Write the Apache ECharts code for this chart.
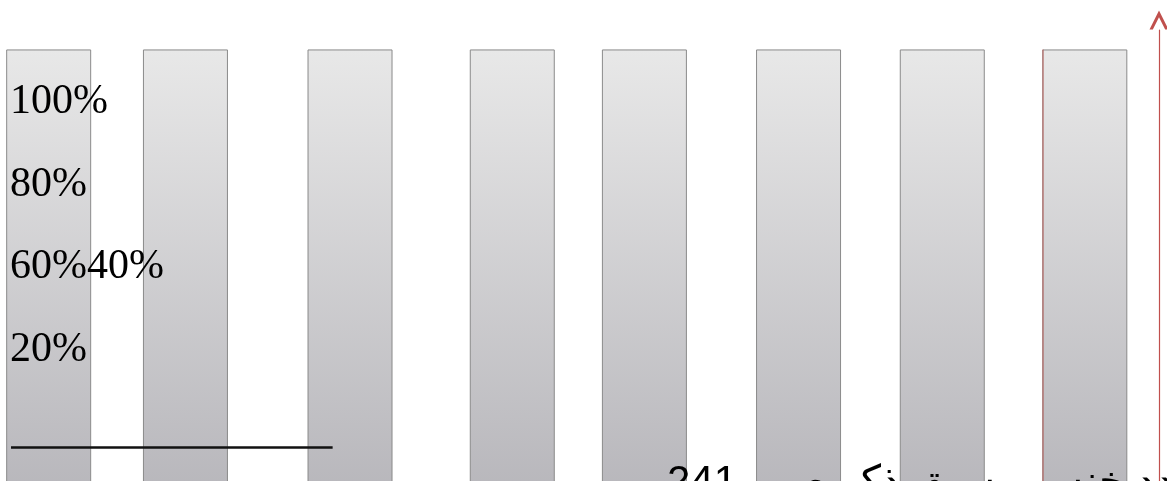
<!DOCTYPE html>
<html>
<head>
<meta charset="utf-8">
<script src="https://cdn.jsdelivr.net/npm/echarts@6/dist/echarts.min.js"></script>
<style>html,body{margin:0;padding:0;background:#fff;overflow:hidden;}#c{width:1167px;height:530px;}</style>
</head>
<body>
<div id="c"></div>
<script>
// bar positions along the horizontal value axis (0-100 units)
const barPositions = [4.2, 16.0, 30.2, 44.2, 55.6, 68.9, 81.3, 93.6];
// bar values (percent)
const barValues = [96, 96, 96, 96, 96, 96, 96, 96];
// percentage tick values and their labels (as drawn)
const tickValues = [100, 80, 60, 40, 20, 0];
const tickLabels = ['100%', '80%', '60%40%', '20%', '', ''];
// title text
const titleText = 'عدد خنس مسبق ذكر صور 241،\u200F';

const chart = echarts.init(document.getElementById('c'), null, {renderer: 'canvas'});
const data = barPositions.map((x, i) => [x, barValues[i]]);
chart.setOption({
  animation: false,
  backgroundColor: '#fff',
  title: {
    text: titleText,
    left: 648,
    top: 457,
    z: 20,
    textStyle: {fontFamily: 'sans-serif', fontSize: 42, fontWeight: 'normal', color: '#000'}
  },
  grid: {left: 0, right: 8, top: 30, bottom: 14, containLabel: false},
  xAxis: {type: 'value', min: 0, max: 100, show: false},
  yAxis: [
    {
      type: 'value', min: 0, max: 100, position: 'right', z: 10,
      axisLine: {
        show: true, onZero: false, lineStyle: {color: '#c0504d', width: 1.2},
        symbol: ['none', 'path://M0,20 L10,0 L20,20 L16.5,20 L10,7 L3.5,20 Z'],
        symbolSize: [19, 20], symbolOffset: [0, 10]
      },
      axisTick: {show: false}, axisLabel: {show: false}, splitLine: {show: false}
    },
    {
      type: 'value', min: 0, max: 117.3, interval: 20, position: 'left', z: 10,
      axisLine: {show: false, onZero: false}, axisTick: {show: false}, splitLine: {show: false},
      axisLabel: {
        inside: true, margin: 10, align: 'left',
        fontFamily: 'Liberation Serif, serif', fontSize: 42, color: '#000',
        formatter: function (v) {
          const i = tickValues.indexOf(Math.round(v * 1000) / 1000);
          return i >= 0 ? tickLabels[i] : '';
        }
      }
    }
  ],
  series: [
    {
      type: 'bar', xAxisIndex: 0, yAxisIndex: 0, barWidth: 85, z: 2,
      data: data,
      itemStyle: {
        color: new echarts.graphic.LinearGradient(0, 0, 0, 1, [
          {offset: 0, color: '#e8e8e8'},
          {offset: 1, color: '#b5b4b9'}
        ]),
        borderColor: '#8a8a8a', borderWidth: 1
      },
      markLine: {
        silent: true, symbol: 'none', label: {show: false}, animation: false,
        data: [
          [{coord: [0.95, 14.2], lineStyle: {color: '#111', width: 2.5, type: 'solid'}}, {coord: [28.7, 14.2]}],
          [{coord: [89.93, 96], lineStyle: {color: 'rgba(192,80,77,0.55)', width: 1.5, type: 'solid'}}, {coord: [89.93, 0]}]
        ]
      }
    }
  ]
});
</script>
</body>
</html>
